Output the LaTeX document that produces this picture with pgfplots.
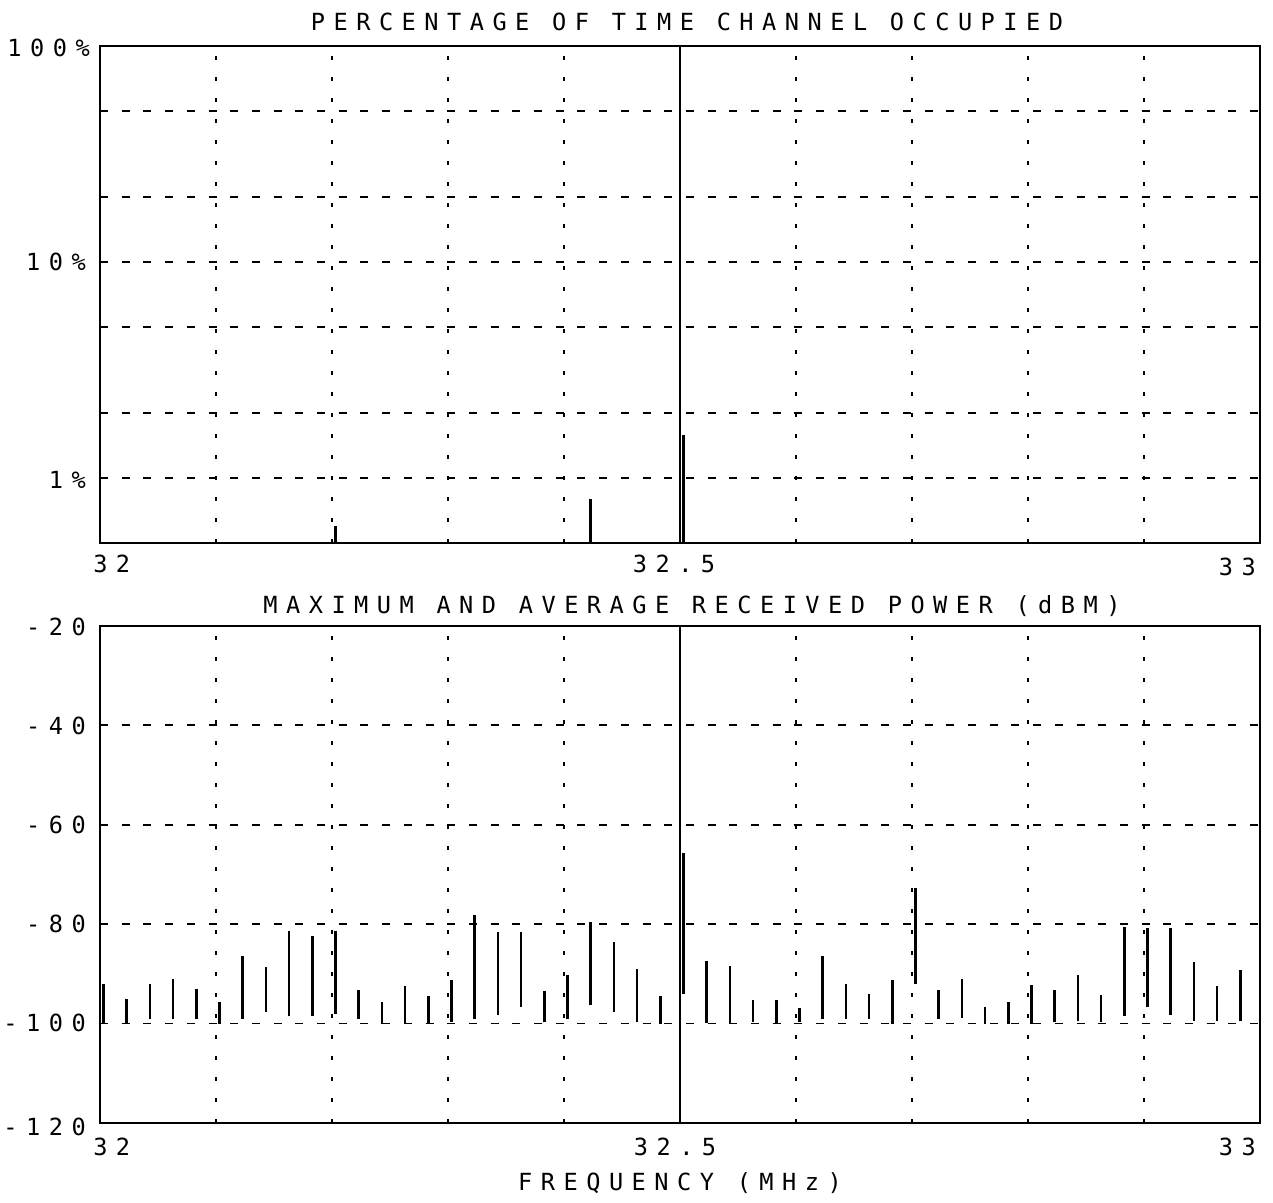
\documentclass[border=0pt]{standalone}
\usepackage{fontspec}
\usepackage{pgfplots}
\usepackage{pgfplotstable}
\pgfplotsset{compat=1.18}
\newfontfamily\pf[LetterSpace=36]{DejaVu Sans Mono}
\newcommand\lf{\fontsize{11.8pt}{12pt}\pf}

\pgfplotstableread{
f lo hi
32.003 -100 -92.0
32.023 -100 -95.1
32.043 -99 -92.0
32.063 -99 -91.0
32.083 -99 -93.0
32.103 -100 -95.6
32.123 -99 -86.5
32.143 -97.7 -88.6
32.163 -98.5 -81.4
32.183 -98.5 -82.4
32.203 -98 -81.4
32.223 -99 -93.2
32.243 -100 -95.7
32.263 -100 -92.4
32.283 -100 -94.4
32.303 -99.7 -91.2
32.323 -99 -78.2
32.343 -98.2 -81.6
32.363 -96.7 -81.6
32.383 -99.7 -93.4
32.403 -99 -90.3
32.423 -96.2 -79.5
32.443 -97.6 -83.5
32.463 -99.7 -89.1
32.483 -100 -94.4
32.503 -94 -65.6
32.523 -99.9 -87.5
32.543 -100 -88.4
32.563 -99.7 -95.2
32.583 -100 -95.2
32.603 -99.7 -96.8
32.623 -99.1 -86.5
32.643 -99.1 -92.1
32.663 -99.1 -94.1
32.683 -100 -91.3
32.703 -92.1 -72.7
32.723 -99.1 -93.3
32.743 -98.9 -91.0
32.763 -100 -96.7
32.783 -100 -95.7
32.803 -100 -92.2
32.823 -99.7 -93.2
32.843 -99.4 -90.2
32.863 -99.7 -94.3
32.883 -98.5 -80.5
32.903 -96.6 -80.7
32.923 -98.3 -80.7
32.943 -99.4 -87.6
32.963 -99.4 -92.4
32.983 -99.4 -89.2
}\bardata

\pgfplotsset{common/.style={
  scale only axis, width=580pt, height=248.5pt,
  anchor=south west,
  xmin=32, xmax=33,
  xtick={32.1,32.2,32.3,32.4,32.6,32.7,32.8,32.9},
  xticklabels={}, yticklabels={},
  xmajorgrids, ymajorgrids,
  major tick length=0pt,
  major x grid style={black, line width=0.9pt, dash pattern=on 2pt off 8.5pt},
  major y grid style={black, line width=0.9pt, dash pattern=on 4pt off 6.85pt},
  axis line style={black, line width=1.2pt},
  clip=true,
}}

\begin{document}
\begin{tikzpicture}
\path[use as bounding box] (0,0) rectangle (636.5pt,601.5pt);

\begin{axis}[common, at={(50pt,330pt)},
  ymode=log, ymin=0.5, ymax=100,
  ytick={1,2,5,10,20,50}, yminorticks=false]
\addplot[black, line width=1pt, mark=none] coordinates {(32.5,0.5) (32.5,100)};
\addplot[black, line width=1.3pt, mark=none] coordinates {(32.203,0.5) (32.203,0.60)};
\addplot[black, line width=1.3pt, mark=none] coordinates {(32.423,0.5) (32.423,0.80)};
\addplot[black, line width=1.3pt, mark=none] coordinates {(32.503,0.5) (32.503,1.58)};
\end{axis}

\begin{axis}[common, at={(50pt,40pt)},
  ymin=-120, ymax=-20,
  ytick={-40,-60,-80,-100}]
\addplot[black, line width=1pt, mark=none] coordinates {(32.5,-120) (32.5,-20)};
\addplot[draw=none, mark=none,
  error bars/.cd, y dir=plus, y explicit, error mark=none,
  error bar style={draw=black, solid, line width=1.3pt}]
  table[x=f, y=lo, y error plus expr=\thisrow{hi}-\thisrow{lo}] {\bardata};
\end{axis}

\lf
\node at (343.5pt,590.5pt) {PERCENTAGE OF TIME CHANNEL OCCUPIED};
\node at (346pt,298.5pt) {MAXIMUM AND AVERAGE RECEIVED POWER (dBM)};
\node at (340pt,10pt) {FREQUENCY (MHz)};

\node[anchor=east] at (49pt,577.5pt) {100\%};
\node[anchor=east] at (47pt,470.5pt) {10\%};
\node[anchor=east] at (47pt,361.5pt) {1\%};

\node[anchor=east] at (47pt,288pt) {-20};
\node[anchor=east] at (47pt,238.5pt) {-40};
\node[anchor=east] at (47pt,189pt) {-60};
\node[anchor=east] at (47pt,139.5pt) {-80};
\node[anchor=east] at (47pt,90pt) {-100};
\node[anchor=east] at (47pt,38pt) {-120};

\node[anchor=west] at (42.5pt,319.5pt) {32};
\node at (337pt,319.5pt) {32.5};
\node[anchor=east] at (632pt,318pt) {33};

\node[anchor=west] at (42.5pt,28pt) {32};
\node at (337.5pt,28pt) {32.5};
\node[anchor=east] at (632pt,28pt) {33};
\end{tikzpicture}
\end{document}
